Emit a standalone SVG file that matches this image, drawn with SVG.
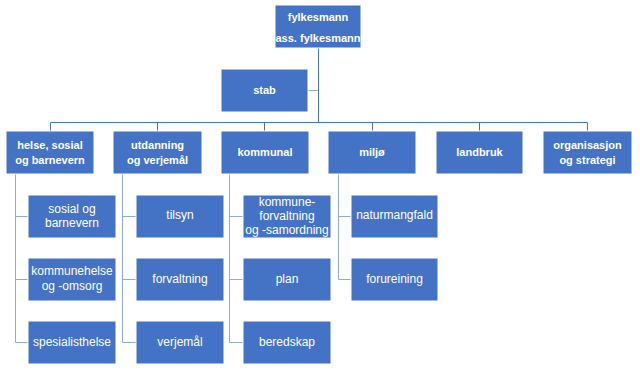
<svg xmlns="http://www.w3.org/2000/svg" width="640" height="372" viewBox="0 0 640 372">
<style>
.b{fill:#4472C4;stroke:#ffffff;stroke-width:1}
.t{fill:#ffffff;font-family:"Liberation Sans",Arial,sans-serif;font-size:12px;text-anchor:middle}
.h{font-weight:bold;font-size:11px}
.c{fill:none;stroke:#8FAADC;stroke-width:1}
.m{fill:none;stroke:#4472C4;stroke-width:1}
</style>
<rect width="640" height="372" fill="#ffffff"/>
<g id="connectors">
<path class="m" d="M318.5 48V122.5M50.5 131V122.5H587.5V131M157.5 122.5V131M264.5 122.5V131M372.5 122.5V131M479.5 122.5V131"/>
<path class="c" d="M308 90.5H318.5"/>
<path class="c" d="M15.5 174V342.5H28M15.5 216.5H28M15.5 279.5H28"/>
<path class="c" d="M122.5 174V342.5H136M122.5 216.5H136M122.5 279.5H136"/>
<path class="c" d="M229.5 174V342.5H243M229.5 216.5H243M229.5 279.5H243"/>
<path class="c" d="M338.5 174V279.5H351M338.5 216.5H351"/>
</g>
<g id="fylkesmann"><rect class="b" x="275" y="5" width="86" height="43"/><text class="t h" x="318" y="21">fylkesmann</text><text class="t h" x="318" y="42">ass. fylkesmann</text></g>
<g id="stab"><rect class="b" x="221" y="69" width="87" height="43"/><text class="t h" x="264.5" y="94">stab</text></g>
<g id="helse"><rect class="b" x="6" y="131" width="88" height="43"/><text class="t h" x="50" y="149">helse, sosial</text><text class="t h" x="50" y="164">og barnevern</text></g>
<g id="utdanning"><rect class="b" x="113" y="131" width="89" height="43"/><text class="t h" x="157.5" y="149">utdanning</text><text class="t h" x="157.5" y="164">og verjemål</text></g>
<g id="kommunal"><rect class="b" x="221" y="131" width="88" height="43"/><text class="t h" x="265" y="156">kommunal</text></g>
<g id="miljo"><rect class="b" x="328" y="131" width="88" height="43"/><text class="t h" x="372" y="156">miljø</text></g>
<g id="landbruk"><rect class="b" x="436" y="131" width="87" height="43"/><text class="t h" x="479.5" y="156">landbruk</text></g>
<g id="organisasjon"><rect class="b" x="543" y="131" width="89" height="43"/><text class="t h" x="587.5" y="149">organisasjon</text><text class="t h" x="587.5" y="164">og strategi</text></g>
<g id="sosial"><rect class="b" x="28" y="195" width="88" height="43"/><text class="t" x="72" y="213">sosial og</text><text class="t" x="72" y="227">barnevern</text></g>
<g id="kommunehelse"><rect class="b" x="28" y="258" width="88" height="43"/><text class="t" x="72" y="275">kommunehelse</text><text class="t" x="72" y="290">og -omsorg</text></g>
<g id="spesialisthelse"><rect class="b" x="28" y="321" width="88" height="43"/><text class="t" x="72" y="346">spesialisthelse</text></g>
<g id="tilsyn"><rect class="b" x="136" y="195" width="88" height="43"/><text class="t" x="180" y="219">tilsyn</text></g>
<g id="forvaltning"><rect class="b" x="136" y="258" width="88" height="43"/><text class="t" x="180" y="283">forvaltning</text></g>
<g id="verjemal"><rect class="b" x="136" y="321" width="88" height="43"/><text class="t" x="180" y="346">verjemål</text></g>
<g id="kommuneforvaltning"><rect class="b" x="243" y="195" width="88" height="43"/><text class="t" x="287" y="206">kommune-</text><text class="t" x="287" y="220">forvaltning</text><text class="t" x="287" y="234">og -samordning</text></g>
<g id="plan"><rect class="b" x="243" y="258" width="88" height="43"/><text class="t" x="287" y="283">plan</text></g>
<g id="beredskap"><rect class="b" x="243" y="321" width="88" height="43"/><text class="t" x="287" y="346">beredskap</text></g>
<g id="naturmangfald"><rect class="b" x="351" y="195" width="87" height="43"/><text class="t" x="394.5" y="219">naturmangfald</text></g>
<g id="forureining"><rect class="b" x="351" y="258" width="87" height="43"/><text class="t" x="394.5" y="283">forureining</text></g>
</svg>
